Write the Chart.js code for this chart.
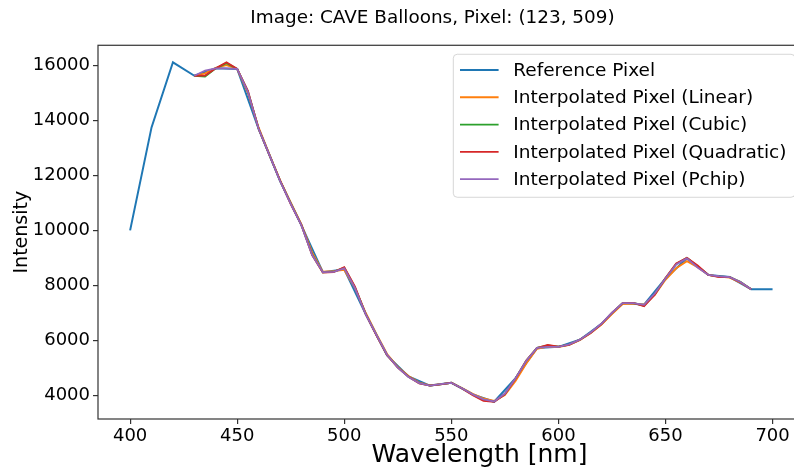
<!DOCTYPE html>
<html><head><meta charset="utf-8">
<script src="https://cdn.jsdelivr.net/npm/chart.js@4.4.0/dist/chart.umd.min.js"></script>
<style>html,body{margin:0;padding:0;overflow:hidden;background:#fff;width:794px;height:470px}canvas{display:block}</style>
</head><body>
<canvas id="c" width="865" height="470"></canvas>
<script>
const chartTitle = 'Image: CAVE Balloons, Pixel: (123, 509)';
const xAxisLabel = 'Wavelength [nm]';
const yAxisLabel = 'Intensity';
const seriesNames = ['Reference Pixel', 'Interpolated Pixel (Linear)', 'Interpolated Pixel (Cubic)', 'Interpolated Pixel (Quadratic)', 'Interpolated Pixel (Pchip)'];
const seriesColors = ['#1f77b4', '#ff7f0e', '#2ca02c', '#d62728', '#9467bd'];

const refWavelengths = [400,410,420,430,440,450,460,470,480,490,500,510,520,530,540,550,560,570,580,590,600,610,620,630,640,650,660,670,680,690,700];
const refValues = [10000,13750,16120,15630,15900,15880,13700,11800,10180,8480,8580,6950,5450,4680,4350,4450,4030,3760,4620,5720,5760,6020,6590,7350,7300,8250,8980,8380,8300,7860,7860];

const interpWavelengths = [430,435,440,445,450,455,460,465,470,475,480,485,490,495,500,505,510,515,520,525,530,535,540,545,550,555,560,565,570,575,580,585,590,595,600,605,610,615,620,625,630,635,640,645,650,655,660,665,670,675,680,685,690];
const linearValues = [15630,15720,15920,16020,15880,15000,13750,12780,11830,11020,10220,9200,8500,8520,8560,7900,7000,6230,5500,5030,4700,4460,4360,4400,4450,4260,4050,3880,3790,4000,4520,5150,5690,5770,5750,5830,6000,6250,6560,6950,7320,7330,7300,7650,8200,8620,8880,8660,8380,8320,8280,8100,7860];
const cubicValues = [15630,15600,15900,16090,15880,15060,13700,12760,11810,10980,10190,9120,8470,8490,8640,7920,6960,6190,5460,5010,4670,4440,4350,4395,4450,4250,4020,3820,3765,4040,4620,5260,5720,5810,5765,5840,6020,6270,6590,7000,7350,7355,7260,7680,8260,8780,9000,8700,8380,8320,8300,8130,7860];
const quadraticValues = [15630,15640,15900,16120,15880,15080,13700,12750,11820,10960,10190,9100,8460,8480,8660,7950,6950,6180,5450,5000,4670,4430,4350,4390,4450,4240,4000,3790,3760,4030,4610,5260,5720,5830,5770,5830,6020,6260,6580,7000,7350,7360,7240,7660,8270,8800,9000,8720,8380,8300,8300,8110,7860];
const pchipValues = [15630,15820,15900,15900,15880,15040,13700,12760,11800,10970,10180,9100,8480,8490,8620,7900,6950,6200,5470,5000,4660,4440,4350,4400,4450,4250,4030,3850,3770,4060,4620,5250,5720,5760,5760,5850,6020,6280,6600,7000,7350,7350,7290,7700,8250,8760,8980,8650,8380,8330,8300,8120,7860];

const xTickValues = [400,450,500,550,600,650,700];
const yTickValues = [4000,6000,8000,10000,12000,14000,16000];
const xRange = [385, 741.3];
const yRange = [3132, 16740];

const FONT = '"DejaVu Sans", "Liberation Sans", sans-serif';

function pts(xs, ys) { return xs.map((x, i) => ({x: x, y: ys[i]})); }

const seriesData = [
  pts(refWavelengths, refValues),
  pts(interpWavelengths, linearValues),
  pts(interpWavelengths, cubicValues),
  pts(interpWavelengths, quadraticValues),
  pts(interpWavelengths, pchipValues)
];

const spinesPlugin = {
  id: 'spines',
  afterDatasetsDraw(chart) {
    const {ctx, chartArea: a} = chart;
    ctx.save();
    ctx.strokeStyle = '#333';
    ctx.lineWidth = 1.2;
    ctx.strokeRect(a.left, a.top, a.right - a.left, a.bottom - a.top);
    ctx.restore();
  }
};

const legendPlugin = {
  id: 'mplLegend',
  afterDraw(chart) {
    const {ctx, chartArea: a} = chart;
    const ds = chart.data.datasets;
    ctx.save();
    ctx.font = '18.5px ' + FONT;
    const maxW = Math.max(...ds.map(d => ctx.measureText(d.label).width));
    const rowH = 27.3;
    const right = a.right - 66;
    const top = a.top + 9;
    const width = 60 + maxW + 8.5;
    const left = right - width;
    const height = 2 + rowH * ds.length + 4.5;
    ctx.beginPath();
    ctx.roundRect(left, top, width, height, 4);
    ctx.fillStyle = 'rgba(255,255,255,0.8)';
    ctx.fill();
    ctx.strokeStyle = 'rgba(204,204,204,0.8)';
    ctx.lineWidth = 1;
    ctx.stroke();
    ds.forEach((d, i) => {
      const cy = top + 2 + rowH * (i + 0.5);
      ctx.beginPath();
      ctx.moveTo(left + 6.7, cy);
      ctx.lineTo(left + 45.3, cy);
      ctx.strokeStyle = d.borderColor;
      ctx.lineWidth = d.borderWidth;
      ctx.stroke();
      ctx.fillStyle = '#000';
      ctx.textBaseline = 'middle';
      ctx.textAlign = 'left';
      ctx.fillText(d.label, left + 60, cy + 1);
    });
    ctx.restore();
  }
};

new Chart(document.getElementById('c'), {
  type: 'line',
  data: {
    datasets: seriesNames.map((name, i) => ({
      label: name,
      data: seriesData[i],
      borderColor: seriesColors[i],
      backgroundColor: seriesColors[i],
      borderWidth: i === 0 ? 2 : 1.8,
      pointRadius: 0,
      tension: 0,
      fill: false,
      order: 5 - i
    }))
  },
  options: {
    responsive: false,
    animation: false,
    events: [],
    layout: { padding: 0 },
    plugins: {
      legend: { display: false },
      tooltip: { enabled: false },
      title: {
        display: true,
        text: chartTitle,
        color: '#000',
        font: { family: FONT, size: 18.4, weight: 'normal', lineHeight: 1.2 },
        padding: { top: 7, bottom: 16.2 }
      }
    },
    scales: {
      x: {
        type: 'linear',
        position: 'bottom',
        min: xRange[0], max: xRange[1],
        afterBuildTicks(s) { s.ticks = xTickValues.map(v => ({value: v})); },
        afterFit(s) { s.height = 51; },
        grid: { drawOnChartArea: false, drawTicks: true, tickLength: 5, color: '#333', lineWidth: 1.2 },
        border: { display: false },
        ticks: { color: '#000', font: { family: FONT, size: 18 }, padding: 2, maxRotation: 0, autoSkip: false },
        title: { display: true, text: xAxisLabel, color: '#000', font: { family: FONT, size: 25, lineHeight: 1.2 }, padding: { top: 0, bottom: 0 } }
      },
      y: {
        type: 'linear',
        position: 'left',
        min: yRange[0], max: yRange[1],
        afterBuildTicks(s) { s.ticks = yTickValues.map(v => ({value: v})); },
        afterFit(s) { s.width = 98; },
        grid: { drawOnChartArea: false, drawTicks: true, tickLength: 5, color: '#333', lineWidth: 1.2 },
        border: { display: false },
        ticks: { color: '#000', font: { family: FONT, size: 18 }, padding: 3, autoSkip: false, callback: v => String(v) },
        title: { display: true, text: yAxisLabel, color: '#000', font: { family: FONT, size: 19 }, padding: { top: 11, bottom: 0 } }
      },
      yR: {
        type: 'linear',
        position: 'right',
        display: true,
        afterFit(s) { s.width = 4; },
        grid: { display: false, drawTicks: false },
        border: { display: false },
        ticks: { display: false }
      }
    }
  },
  plugins: [spinesPlugin, legendPlugin]
});
</script>
</body></html>
